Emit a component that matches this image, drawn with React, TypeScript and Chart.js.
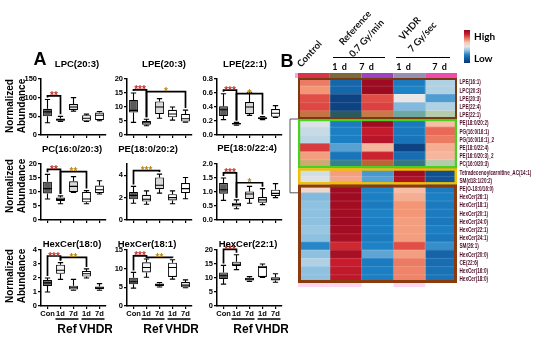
import React, { useEffect, useRef } from 'react';
import { Chart, registerables } from 'chart.js';

Chart.register(...registerables);

// ---------------- DATA ----------------
const groupLabels = ['Con', '1d', '7d', '1d', '7d'];
const treatmentLabels = ['Ref', 'VHDR'];

// each group: [min, q1, median, q3, max]
const lpc203 = [[33, 50, 62, 70, 95], [36, 38, 41, 44, 50], [64, 67, 75, 83, 100], [36, 38, 45, 53, 56], [38, 40, 53, 60, 63]];
const lpe203 = [[4.5, 8, 8.8, 12.5, 15], [3.3, 3.7, 4.4, 5, 5.6], [6, 7.5, 10, 12, 13], [5.3, 6.3, 7.5, 9, 10], [4.6, 4.8, 5.8, 7.5, 8.9]];
const lpe221 = [[0.22, 0.27, 0.36, 0.41, 0.59], [0.14, 0.15, 0.16, 0.17, 0.18], [0.28, 0.3, 0.4, 0.47, 0.61], [0.22, 0.225, 0.24, 0.255, 0.265], [0.25, 0.26, 0.31, 0.37, 0.42]];
const pc160203 = [[7.5, 9.5, 11.2, 13.7, 16.3], [5.8, 6.8, 7.3, 8, 8.6], [9.8, 10, 12, 13.8, 15.5], [5.8, 6.3, 7.5, 10, 10.5], [9.3, 9.6, 10.8, 12.3, 14]];
const pe180202 = [[1.5, 1.85, 2.2, 2.5, 3.0], [1.4, 1.65, 1.85, 2.25, 2.6], [2.4, 2.75, 3.1, 3.8, 4.1], [1.45, 1.75, 2.0, 2.3, 2.6], [1.9, 2.4, 2.8, 3.3, 3.8]];
const pe180224 = [[0.7, 0.94, 1.08, 1.32, 1.5], [0.4, 0.48, 0.55, 0.62, 0.72], [0.6, 0.75, 0.93, 1.02, 1.2], [0.55, 0.62, 0.72, 0.82, 1.12], [0.8, 0.86, 0.95, 1.08, 1.3]];
const hexcer180 = [[1.0, 1.43, 1.65, 1.85, 2.0], [1.9, 2.3, 2.55, 2.95, 3.1], [1.12, 1.18, 1.3, 1.45, 1.9], [2.0, 2.1, 2.3, 2.5, 2.65], [1.12, 1.2, 1.3, 1.4, 1.6]];
const hexcer181 = [[4.8, 5.8, 6.5, 7.6, 9], [7.7, 9, 10.3, 11.7, 12.6], [5.1, 5.3, 5.7, 6.0, 6.3], [7.2, 7.8, 10.3, 11.6, 12.4], [4.9, 5.0, 5.6, 6.4, 7.0]];
const hexcer221 = [[7.8, 9.6, 10.8, 12, 14.5], [13, 14.3, 14.9, 15.8, 18.3], [8.8, 9.1, 9.6, 10.1, 10.5], [10.2, 10.4, 13.8, 14.4, 15], [8.5, 9.1, 9.6, 10.3, 11.5]];

const panelTitles = ['LPC(20:3)', 'LPE(20:3)', 'LPE(22:1)', 'PC(16:0/20:3)', 'PE(18:0/20:2)', 'PE(18:0/22:4)', 'HexCer(18:0)', 'HexCer(18:1)', 'HexCer(22:1)'];
const panelStats = [lpc203, lpe203, lpe221, pc160203, pe180202, pe180224, hexcer180, hexcer181, hexcer221];
const panelMax = [150, 20, 0.8, 20, 5, 2.0, 4, 15, 20];
const panelStep = [50, 5, 0.2, 5, 1, 0.5, 1, 5, 5];
const panelDecimals = [0, 0, 1, 0, 0, 1, 0, 0, 0];
// significance brackets: from group a to group b at level y
const panelSig = [
  [{ a: 0, b: 1, y: 105, t: '**' }],
  [{ a: 0, b: 1, y: 16.1, t: '***' }, { a: 1, b: 4, y: 15.5, t: '*' }],
  [{ a: 0, b: 1, y: 0.64, t: '***' }, { a: 1, b: 3, y: 0.59, t: '*' }],
  [{ a: 0, b: 1, y: 18.1, t: '**' }, { a: 1, b: 3, y: 17.3, t: '**' }],
  [{ a: 0, b: 2, y: 4.4, t: '***' }],
  [{ a: 0, b: 1, y: 1.68, t: '***' }, { a: 1, b: 3, y: 1.33, t: '*' }],
  [{ a: 0, b: 1, y: 3.57, t: '***' }, { a: 1, b: 3, y: 3.48, t: '**' }],
  [{ a: 0, b: 1, y: 13.4, t: '***' }, { a: 1, b: 3, y: 13.0, t: '**' }],
  [{ a: 0, b: 1, y: 20.2, t: '***' }],
];

// heatmap
const heatColumns = ['Control', 'Ref 1 d', 'Ref 7 d', 'VHDR 1 d', 'VHDR 7 d'];
const heatRows = [
  'LPE(16:1)', 'LPC(20:3)', 'LPE(20:3)', 'LPE(22:4)', 'LPE(22:1)',
  'PE(18:0/20:2)', 'PG(16:0/16:1)', 'PG(16:0/16:1)_2', 'PE(18:0/22:4)', 'PE(16:0/20:3)_2', 'PC(16:0/20:3)',
  'Tetradecenoylcarnitine_AC(14:1)', 'SM(d18:1/20:2)',
  'PE(O-18:0/16:0)', 'HexCer(26:1)', 'HexCer(18:1)', 'HexCer(20:1)', 'HexCer(24:0)', 'HexCer(22:1)', 'HexCer(24:1)',
  'SM(26:1)', 'HexCer(20:0)', 'CE(22:6)', 'HexCer(16:0)', 'HexCer(18:0)',
];
const heatControl = [0.75, 0.6, 1.0, 1.05, 0.9, -0.05, -0.15, -0.2, 1.15, 0.55, 0.45, -0.1, -0.05, 0.15, -0.45, -0.4, -0.4, -0.4, -0.35, -0.4, -0.95, -0.4, -0.25, -0.4, -0.4];
const heatRef1d = [-1.4, -1.4, -1.85, -1.85, -1.95, -1.1, -1.05, -1.05, -0.65, -1.2, -1.2, 0.55, 0.5, 1.9, 1.9, 1.85, 1.85, 1.9, 1.85, 1.8, 1.3, 1.8, 1.4, 1.5, 1.55];
const heatRef7d = [1.9, 1.95, 1.0, 1.1, 0.85, 1.9, 1.45, 1.6, 0.4, 1.35, 1.05, -0.75, -0.65, -1.0, -1.05, -1.1, -1.0, -1.05, -1.05, -1.1, -1.0, -0.6, -1.1, -1.05, -1.05];
const heatVhdr1d = [-1.1, -1.0, 0.0, -0.45, -0.55, -1.15, -1.15, -1.2, -1.85, -1.3, -1.4, 1.9, 1.7, 0.35, 0.45, 0.6, 0.6, 0.55, 0.55, 0.55, 1.0, 0.55, 0.75, 0.7, 0.7];
const heatVhdr7d = [-0.25, -0.25, -0.7, -0.25, -0.1, 0.35, 0.85, 0.75, 0.45, 0.4, -0.1, -1.7, -1.65, -1.1, -1.05, -1.1, -1.1, -1.15, -1.05, -1.15, -0.85, -1.45, -1.3, -1.25, -1.2];
const heatClusterSizes = [5, 6, 2, 12];
const legendLabels = ['High', 'Low'];

// ---------------- STYLE / LAYOUT ----------------
const FONT = '"Liberation Sans", Arial, sans-serif';
const HFONT = 'Lato, "Open Sans", sans-serif';
const boxFills = ['#5b5b5b', '#f3f3f3', '#d9d9d9', '#ffffff', '#ffffff'];
const colAxisX = [41, 127, 217];
const rowTop = [79, 164, 250];
const rowBottom = [135, 220, 306];
const plotW = 65;
const titlePos = [[77, 63], [164, 63], [245, 63], [72, 148], [148, 148], [247, 147], [72, 243], [147, 243], [248, 243]];
const yTitleCenters = [106, 186, 276];

const STOPS: [number, number[]][] = [
  [-2, [10, 55, 115]],
  [-1.5, [20, 95, 165]],
  [-1.0, [30, 130, 198]],
  [-0.6, [95, 165, 212]],
  [-0.3, [165, 205, 228]],
  [0, [232, 230, 230]],
  [0.3, [248, 198, 176]],
  [0.6, [243, 150, 118]],
  [1.0, [225, 78, 70]],
  [1.4, [200, 28, 45]],
  [2.0, [150, 8, 32]],
];
function heatColor(v: number) {
  if (v <= STOPS[0][0]) return `rgb(${STOPS[0][1].join(',')})`;
  for (let i = 1; i < STOPS.length; i++) {
    if (v <= STOPS[i][0]) {
      const [v0, c0] = STOPS[i - 1];
      const [v1, c1] = STOPS[i];
      const t = (v - v0) / (v1 - v0);
      const c = c0.map((x, k) => Math.round(x + (c1[k] - x) * t));
      return `rgb(${c.join(',')})`;
    }
  }
  return `rgb(${STOPS[STOPS.length - 1][1].join(',')})`;
}

const boxPlugin = {
  id: 'boxExtras',
  afterDatasetsDraw(chart: any, _args: any, opts: any) {
    const { ctx, chartArea } = chart;
    const xs = chart.scales.x;
    const ys = chart.scales.y;
    const meta = chart.getDatasetMeta(0);
    const stats = opts.stats as number[][];
    ctx.save();
    ctx.strokeStyle = '#000';
    ctx.lineWidth = 1.1;
    stats.forEach((s, i) => {
      const bar = meta.data[i];
      const cx = bar.x;
      const hw = bar.width / 2;
      const p = s.map((v) => ys.getPixelForValue(v));
      ctx.beginPath();
      ctx.moveTo(cx, p[3]); ctx.lineTo(cx, p[4]);
      ctx.moveTo(cx, p[1]); ctx.lineTo(cx, p[0]);
      ctx.moveTo(cx - hw * 0.6, p[4]); ctx.lineTo(cx + hw * 0.6, p[4]);
      ctx.moveTo(cx - hw * 0.6, p[0]); ctx.lineTo(cx + hw * 0.6, p[0]);
      ctx.moveTo(cx - hw, p[2]); ctx.lineTo(cx + hw, p[2]);
      ctx.stroke();
    });
    // significance brackets
    (opts.sig || []).forEach((g: any) => {
      const py = ys.getPixelForValue(g.y);
      const xa = xs.getPixelForValue(g.a);
      const xb = xs.getPixelForValue(g.b);
      const pa = ys.getPixelForValue(stats[g.a][4]) - 2;
      const pb = ys.getPixelForValue(stats[g.b][4]) - 2;
      ctx.lineWidth = 1.7;
      ctx.beginPath();
      ctx.moveTo(xa, pa); ctx.lineTo(xa, py); ctx.lineTo(xb, py); ctx.lineTo(xb, pb);
      ctx.stroke();
      ctx.fillStyle = g.b === 1 ? '#c0302a' : '#b8861c';
      ctx.font = `bold 10px ${FONT}`;
      ctx.textAlign = 'center';
      ctx.textBaseline = 'alphabetic';
      ctx.fillText(g.t, (xa + xb) / 2, py + 3.5);
    });
    if (opts.groups) {
      const yb = chartArea.bottom;
      const x1a = xs.getPixelForValue(1) - 5, x1b = xs.getPixelForValue(2) + 5;
      const x2a = xs.getPixelForValue(3) - 5, x2b = xs.getPixelForValue(4) + 5;
      ctx.lineWidth = 1.3;
      ctx.beginPath();
      ctx.moveTo(x1a, yb + 13); ctx.lineTo(x1b, yb + 13);
      ctx.moveTo(x2a, yb + 13); ctx.lineTo(x2b, yb + 13);
      ctx.stroke();
      ctx.fillStyle = '#000';
      ctx.font = `bold 12px ${FONT}`;
      ctx.textAlign = 'center';
      ctx.textBaseline = 'middle';
      ctx.fillText(treatmentLabels[0], (x1a + x1b) / 2, yb + 24);
      ctx.fillText(treatmentLabels[1], (x2a + x2b) / 2 + 3, yb + 24);
    }
    ctx.restore();
  },
};

function BoxPanel({ idx }: { idx: number }) {
  const ref = useRef<HTMLCanvasElement>(null);
  const col = idx % 3;
  const row = Math.floor(idx / 3);
  const showX = row === 2;
  const xh = showX ? 32 : 6;
  const padTop = 16;
  const left = colAxisX[col] - 34;
  const top = rowTop[row] - padTop;
  const width = 34 + plotW + 6;
  const height = padTop + (rowBottom[row] - rowTop[row]) + xh;
  useEffect(() => {
    const stats = panelStats[idx];
    const tickFont = { family: FONT, size: 7.5, weight: 'bold' as const };
    const chart = new Chart(ref.current as HTMLCanvasElement, {
      type: 'bar',
      data: {
        labels: groupLabels,
        datasets: [{
          data: stats.map((s) => [s[1], s[3]]) as any,
          backgroundColor: boxFills,
          borderColor: '#000',
          borderWidth: 1.1,
          borderSkipped: false,
          barPercentage: 0.68,
          categoryPercentage: 1,
        }],
      },
      options: {
        animation: false,
        responsive: false,
        devicePixelRatio: 1,
        layout: { padding: { top: padTop, right: 6, left: 0, bottom: 0 } },
        plugins: {
          legend: { display: false },
          tooltip: { enabled: false },
          boxExtras: { stats, sig: panelSig[idx], groups: showX },
        } as any,
        scales: {
          x: {
            offset: true,
            grid: { display: true, offset: false, drawOnChartArea: false, drawTicks: true, tickLength: 3, color: '#000', lineWidth: 1.2 },
            border: { display: true, color: '#000', width: 1.5 },
            ticks: { display: showX, color: '#000', font: tickFont, padding: 0, maxRotation: 0, autoSkip: false },
            afterFit: (s: any) => { s.height = xh; },
          },
          y: {
            min: 0,
            max: panelMax[idx],
            grid: { display: true, drawOnChartArea: false, drawTicks: true, tickLength: 3, color: '#000', lineWidth: 1.2 },
            border: { display: true, color: '#000', width: 1.5 },
            ticks: {
              stepSize: panelStep[idx],
              color: '#000',
              font: tickFont,
              padding: 1,
              callback: (v: any) => Number(v).toFixed(panelDecimals[idx]),
            },
            afterFit: (s: any) => { s.width = 34; },
          },
        },
      } as any,
      plugins: [boxPlugin],
    });
    return () => chart.destroy();
  }, [idx]);
  return (
    <canvas
      ref={ref}
      width={width}
      height={height}
      style={{ position: 'absolute', left, top, width, height }}
    />
  );
}

const heatPlugin = {
  id: 'heatExtras',
  afterDatasetsDraw(chart: any) {
    const { ctx, chartArea: ca } = chart;
    const ys = chart.scales.y;
    const n = heatRows.length;
    const rowH = (ca.bottom - ca.top) / n;
    const colW = (ca.right - ca.left) / heatColumns.length;
    const W = ca.right - ca.left;
    const rt = (r: number) => ca.top + r * rowH;
    ctx.save();
    // thin row separators
    ctx.strokeStyle = 'rgba(255,255,255,0.25)';
    ctx.lineWidth = 0.6;
    ctx.beginPath();
    for (let r = 1; r < n; r++) { ctx.moveTo(ca.left, rt(r)); ctx.lineTo(ca.right, rt(r)); }
    ctx.stroke();
    // column separators
    ctx.strokeStyle = 'rgba(120,220,210,0.55)';
    ctx.lineWidth = 0.8;
    ctx.beginPath();
    for (let c = 1; c < heatColumns.length; c++) { ctx.moveTo(ca.left + c * colW, ca.top); ctx.lineTo(ca.left + c * colW, ca.bottom); }
    ctx.stroke();
    // tints from heavy cluster borders
    ctx.fillStyle = 'rgba(120,160,40,0.3)';
    ctx.fillRect(ca.left, rt(4), W, rowH);
    ctx.fillRect(ca.left, rt(10), W, rowH);
    // header band
    const band = ['#d8334e', '#7d6a3c', '#a040c2', '#9790b6', '#f04cb0'];
    band.forEach((c, j) => { ctx.fillStyle = c; ctx.fillRect(ca.left + j * colW, ca.top - 5, colW, 5); });
    ctx.fillStyle = '#f4a6ec';
    ctx.fillRect(ca.left - 3, ca.top - 5, 3, 5);
    // bottom band
    ctx.fillStyle = '#ffd6f2';
    [0, 1, 3].forEach((j) => ctx.fillRect(ca.left + j * colW, ca.bottom, colW, 4));
    // cluster borders
    const cols = ['#7a3a10', '#46d21e', '#f0c000', '#8a3a0c'];
    const widths = [2, 2.2, 2.5, 3];
    let start = 0;
    heatClusterSizes.forEach((sz, k) => {
      const lw = widths[k];
      ctx.strokeStyle = cols[k];
      ctx.lineWidth = lw;
      ctx.strokeRect(ca.left + lw / 2, rt(start) + lw / 2, W - lw, sz * rowH - lw);
      start += sz;
    });
    // dendrogram bracket
    ctx.strokeStyle = '#555';
    ctx.lineWidth = 1;
    const bt = rt(5);
    const bb = rt(14);
    const bx = ca.left - 8;
    ctx.beginPath();
    ctx.moveTo(ca.left, bt); ctx.lineTo(bx, bt); ctx.lineTo(bx, bb); ctx.lineTo(ca.left, bb);
    ctx.stroke();
    // row labels (condensed)
    ctx.fillStyle = '#4e0c28';
    ctx.font = `bold 7px ${FONT}`;
    ctx.textAlign = 'left';
    ctx.textBaseline = 'middle';
    heatRows.forEach((lab, r) => {
      const y = ys.getPixelForValue(r);
      ctx.save();
      ctx.translate(ca.right + 2.5, y + 0.3);
      ctx.scale(0.66, 1);
      ctx.fillText(lab, 0, 0);
      ctx.restore();
    });
    ctx.restore();
  },
};

function Heatmap() {
  const ref = useRef<HTMLCanvasElement>(null);
  const left = 286, top = 70, width = 264, height = 218;
  useEffect(() => {
    const cols = [heatControl, heatRef1d, heatRef7d, heatVhdr1d, heatVhdr7d];
    const chart = new Chart(ref.current as HTMLCanvasElement, {
      type: 'bar',
      data: {
        labels: heatRows,
        datasets: cols.map((vals, c) => ({
          label: heatColumns[c],
          data: heatRows.map(() => [c, c + 1]) as any,
          backgroundColor: vals.map(heatColor),
          borderWidth: 0,
          grouped: false,
          barPercentage: 1,
          categoryPercentage: 1,
        })),
      },
      options: {
        indexAxis: 'y',
        animation: false,
        responsive: false,
        devicePixelRatio: 1,
        layout: { padding: { left: 12, top: 8, right: 0, bottom: 5 } },
        plugins: { legend: { display: false }, tooltip: { enabled: false } },
        scales: {
          x: { type: 'linear', min: 0, max: 5, display: false },
          y: {
            type: 'category',
            position: 'right',
            offset: true,
            grid: { display: false },
            border: { display: false },
            ticks: { display: false },
            afterFit: (s: any) => { s.width = 93; },
          },
        },
      } as any,
      plugins: [heatPlugin],
    });
    return () => chart.destroy();
  }, []);
  return (
    <canvas ref={ref} width={width} height={height} style={{ position: 'absolute', left, top, width, height }} />
  );
}

const abs = (x: number, y: number, extra: any = {}) => ({
  position: 'absolute' as const,
  left: x,
  top: y,
  transform: 'translate(-50%, -50%)',
  whiteSpace: 'nowrap' as const,
  ...extra,
});

function Rot({ x, y, text }: { x: number; y: number; text: string }) {
  const fs = 9.5;
  return (
    <div
      style={{
        position: 'absolute',
        left: x,
        top: y - fs * 1.2,
        height: fs * 1.2,
        lineHeight: `${fs * 1.2}px`,
        fontFamily: HFONT,
        fontWeight: 700,
        fontSize: fs,
        whiteSpace: 'nowrap',
        transformOrigin: '0 100%',
        transform: 'rotate(-48deg)',
        color: '#111',
      }}
    >
      {text}
    </div>
  );
}

export default function App() {
  const gradient = `linear-gradient(to bottom, ${[2, 1.4, 0.8, 0.3, 0, -0.4, -1.0, -1.6, -2].map(heatColor).join(', ')})`;
  return (
    <div style={{ position: 'absolute', left: 0, top: 0, width: 550, height: 338, background: '#fff', overflow: 'hidden', fontFamily: FONT }}>
      {panelTitles.map((_, i) => <BoxPanel key={i} idx={i} />)}
      {panelTitles.map((t, i) => (
        <div key={'t' + i} style={abs(titlePos[i][0], titlePos[i][1], { fontWeight: 700, fontSize: 9.5, fontFamily: FONT })}>{t}</div>
      ))}
      {yTitleCenters.map((cy, i) => (
        <div key={'y' + i} style={abs(15, cy, { transform: 'translate(-50%, -50%) rotate(-90deg)', fontWeight: 700, fontSize: 10, lineHeight: '11.5px', textAlign: 'center', fontFamily: FONT })}>
          Normalized<br />Abundance
        </div>
      ))}
      <div style={abs(40, 59, { fontWeight: 700, fontSize: 18, fontFamily: FONT })}>A</div>
      <div style={abs(287, 61, { fontWeight: 700, fontSize: 18, fontFamily: FONT })}>B</div>

      <Heatmap />
      <Rot x={303} y={69} text="Control" />
      <Rot x={345} y={47} text="Reference" />
      <Rot x={355} y={59} text="0.7 Gy/min" />
      <Rot x={405} y={42} text="VHDR" />
      <Rot x={414} y={54} text="7 Gy/sec" />
      <div style={{ position: 'absolute', left: 333, top: 57, width: 52, borderTop: '1.5px solid #000' }} />
      <div style={{ position: 'absolute', left: 396, top: 57, width: 54, borderTop: '1.5px solid #000' }} />
      {[[340, '1 d'], [367, '7 d'], [404, '1 d'], [440, '7 d']].map(([x, t], i) => (
        <div key={'d' + i} style={abs(x as number, 66, { fontFamily: HFONT, fontWeight: 700, fontSize: 9, letterSpacing: 1 })}>{t}</div>
      ))}
      <div style={{ position: 'absolute', left: 464, top: 30, width: 6, height: 33, background: gradient }} />
      <div style={{ position: 'absolute', left: 474, top: 36, transform: 'translateY(-50%)', fontFamily: HFONT, fontWeight: 700, fontSize: 10 }}>{legendLabels[0]}</div>
      <div style={{ position: 'absolute', left: 474, top: 58, transform: 'translateY(-50%)', fontFamily: HFONT, fontWeight: 700, fontSize: 10 }}>{legendLabels[1]}</div>
    </div>
  );
}
